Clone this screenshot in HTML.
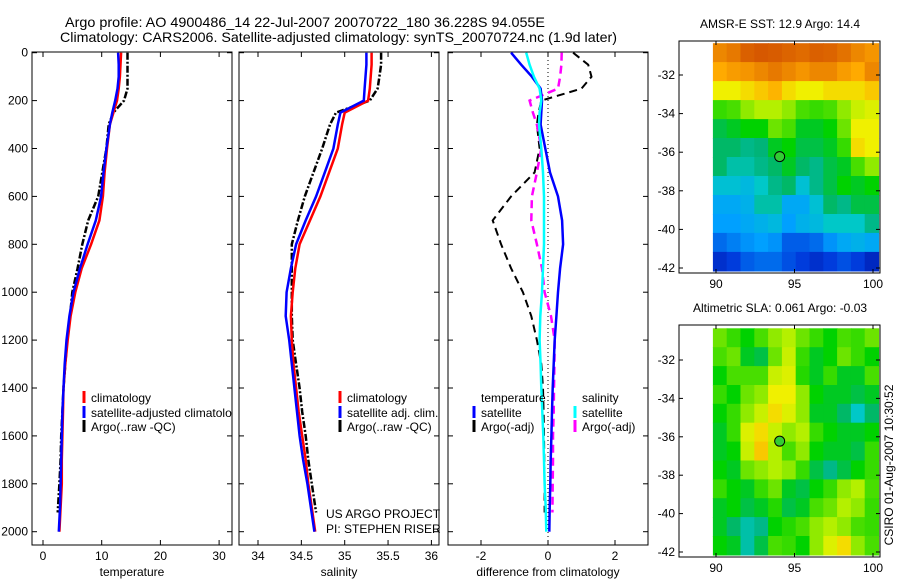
<!DOCTYPE html>
<html><head><meta charset="utf-8"><style>
html,body{margin:0;padding:0;background:#fff;}
svg{display:block;font-family:"Liberation Sans",sans-serif;}
</style></head><body>
<svg id="c" width="900" height="580" viewBox="0 0 900 580">
<defs>
<clipPath id="cp1"><rect x="32" y="52" width="200" height="493"/></clipPath>
<clipPath id="cp2"><rect x="239" y="52" width="200" height="493"/></clipPath>
<clipPath id="cp3"><rect x="448" y="52" width="200" height="493"/></clipPath>
</defs>
<text x="65" y="27" font-size="14" textLength="480" lengthAdjust="spacingAndGlyphs">Argo profile: AO 4900486_14 22-Jul-2007 20070722_180 36.228S 94.055E</text>
<text x="60" y="42" font-size="14" textLength="557" lengthAdjust="spacingAndGlyphs">Climatology: CARS2006. Satellite-adjusted climatology: synTS_20070724.nc (1.9d later)</text>
<g id="g"></g>
</svg>
<script>
// ---- data ----
const depths = [0,50,100,150,200,250,300,400,500,600,700,800,900,1000,1100,1200,1300,1400,1500,1600,1700,1800,1900,2000];
const tempClim = [13.3,13.2,13.1,12.9,12.6,12.0,11.4,10.9,10.5,10.2,9.6,8.2,6.6,5.5,4.7,4.2,3.8,3.5,3.4,3.3,3.2,3.2,3.0,2.8];
const tempSat  = [12.8,12.9,12.9,12.7,12.3,11.8,11.4,10.8,10.3,9.9,9.0,7.6,6.3,5.2,4.5,4.0,3.7,3.5,3.3,3.2,3.1,3.0,2.9,2.7];
const argoDepths = [0,50,100,150,200,250,300,400,500,600,700,800,900,1000,1100,1200,1300,1400,1500,1600,1700,1800,1920];
const tempArgo = [14.4,14.4,14.4,14.4,13.8,12.0,11.2,10.8,10.1,9.4,7.7,6.7,5.9,5.0,4.6,4.1,3.8,3.5,3.3,3.1,3.0,2.8,2.5];
const salClim = [35.31,35.31,35.30,35.29,35.27,35.00,34.97,34.92,34.82,34.72,34.60,34.48,34.43,34.40,34.38,34.39,34.41,34.44,34.47,34.51,34.55,34.58,34.62,34.66];
const salSat  = [35.25,35.25,35.24,35.23,35.22,34.95,34.92,34.87,34.77,34.67,34.55,34.44,34.38,34.33,34.32,34.36,34.39,34.42,34.45,34.48,34.52,34.57,34.61,34.65];
const salArgo = [35.42,35.42,35.40,35.38,35.29,34.90,34.83,34.74,34.64,34.54,34.46,34.39,34.39,34.39,34.39,34.40,34.44,34.48,34.51,34.55,34.58,34.62,34.67];
const diffTempSat = [-1.1,-0.8,-0.48,-0.22,-0.18,-0.2,-0.22,-0.08,0.06,0.3,0.42,0.45,0.36,0.3,0.25,0.2,0.17,0.14,0.12,0.1,0.08,0.07,0.05,0.04];
const diffSalSat  = [-0.65,-0.55,-0.42,-0.25,-0.2,-0.25,-0.27,-0.2,-0.15,-0.12,-0.12,-0.12,-0.15,-0.18,-0.23,-0.25,-0.22,-0.2,-0.17,-0.14,-0.12,-0.1,-0.07,-0.05];
const diffTempArgo = [0.75,1.2,1.3,1.0,-0.2,-0.28,-0.33,-0.25,-0.4,-1.1,-1.65,-1.4,-1.1,-0.75,-0.5,-0.33,-0.2,-0.15,-0.13,-0.12,-0.11,-0.1,-0.1];
const diffSalArgo  = [0.41,0.4,0.36,0.3,-0.55,-0.45,-0.33,-0.2,-0.33,-0.48,-0.5,-0.33,-0.18,-0.1,0.09,0.2,0.19,0.18,0.17,0.15,0.15,0.14,0.13];
const depthTicks = [0,200,400,600,800,1000,1200,1400,1600,1800,2000];
const tempTicks = [0,10,20,30];
const salTicks = [34,34.5,35,35.5,36];
const diffTicks = [-2,0,2];
const latTicks = [-32,-34,-36,-38,-40,-42];
const lonTicks = [90,95,100];
const sstGrid = [
[0.8,0.82,0.86,0.88,0.87,0.85,0.84,0.86,0.85,0.83,0.8,0.78],
[0.75,0.77,0.78,0.8,0.82,0.8,0.78,0.8,0.8,0.77,0.75,0.8],
[0.68,0.68,0.7,0.72,0.74,0.7,0.68,0.68,0.7,0.7,0.7,0.72],
[0.55,0.56,0.6,0.62,0.62,0.6,0.56,0.55,0.56,0.6,0.64,0.66],
[0.48,0.5,0.52,0.52,0.58,0.56,0.5,0.5,0.52,0.58,0.68,0.68],
[0.46,0.46,0.44,0.45,0.5,0.52,0.48,0.48,0.5,0.55,0.7,0.68],
[0.46,0.42,0.42,0.44,0.46,0.5,0.46,0.44,0.48,0.5,0.56,0.6],
[0.38,0.38,0.36,0.4,0.44,0.46,0.38,0.44,0.48,0.52,0.5,0.52],
[0.32,0.32,0.34,0.42,0.42,0.32,0.32,0.38,0.46,0.44,0.48,0.48],
[0.3,0.3,0.32,0.34,0.36,0.3,0.34,0.36,0.4,0.4,0.4,0.44],
[0.22,0.25,0.28,0.3,0.28,0.2,0.2,0.22,0.28,0.32,0.34,0.32],
[0.12,0.15,0.2,0.22,0.22,0.18,0.15,0.12,0.15,0.18,0.15,0.1]];
const slaGrid = [
[0.58,0.55,0.52,0.56,0.6,0.62,0.58,0.55,0.52,0.56,0.55,0.58],
[0.56,0.58,0.5,0.48,0.58,0.64,0.55,0.5,0.52,0.58,0.55,0.52],
[0.52,0.56,0.56,0.56,0.64,0.66,0.54,0.5,0.55,0.5,0.5,0.56],
[0.55,0.52,0.58,0.6,0.68,0.68,0.6,0.52,0.5,0.5,0.48,0.5],
[0.52,0.55,0.6,0.64,0.7,0.66,0.6,0.5,0.5,0.46,0.4,0.46],
[0.5,0.55,0.66,0.7,0.64,0.6,0.62,0.55,0.52,0.5,0.5,0.52],
[0.5,0.52,0.64,0.72,0.62,0.56,0.6,0.52,0.5,0.5,0.48,0.55],
[0.52,0.5,0.58,0.6,0.62,0.6,0.55,0.48,0.44,0.48,0.52,0.55],
[0.55,0.52,0.5,0.55,0.58,0.5,0.48,0.52,0.55,0.6,0.62,0.56],
[0.5,0.52,0.48,0.5,0.54,0.48,0.5,0.56,0.58,0.62,0.6,0.55],
[0.5,0.46,0.42,0.44,0.52,0.54,0.56,0.6,0.62,0.6,0.56,0.55],
[0.52,0.5,0.42,0.48,0.56,0.55,0.52,0.6,0.66,0.7,0.6,0.56]];
const argoLon = 94.055, argoLat = -36.228;
const gridLon0 = 89.8, gridLon1 = 100.35, gridLat0 = -30.35, gridLat1 = -42.15;

// ---- helpers ----
const NS="http://www.w3.org/2000/svg";
const G=document.getElementById('g');
function mk(tag,attrs,parent){const e=document.createElementNS(NS,tag);for(const k in attrs)e.setAttribute(k,attrs[k]);(parent||G).appendChild(e);return e;}
const Y=d=>52.7+d*0.2395;
const xT=v=>43+v*5.87;
const xS=v=>258+(v-34)*86.7;
const xD=v=>548+v*33.5;
const pTop=52, pBot=545;
function line(xs,ds,xf,color,w,dash,clip,name){
  const pts=xs.map((v,i)=>xf(v).toFixed(1)+','+Y(ds[i]).toFixed(1)).join(' ');
  const p=mk('polyline',{points:pts,fill:'none',stroke:color,'stroke-width':w,'stroke-dasharray':dash||'none','clip-path':'url(#'+clip+')'});
  
  
}
function panel(x0,x1,ticks,xf,fmt,title,name){
  const r=mk('rect',{x:x0,y:pTop,width:x1-x0,height:pBot-pTop,fill:'none',stroke:'#000','stroke-width':1});
  
  
  ticks.forEach(t=>{const x=xf(t);
    mk('line',{x1:x,x2:x,y1:pTop,y2:pTop+5,stroke:'#000'});mk('line',{x1:x,x2:x,y1:pBot,y2:pBot-5,stroke:'#000'});
    const tx=mk('text',{x:x,y:560,'font-size':12,'text-anchor':'middle'});tx.textContent=fmt(t);
    
    
  });
  depthTicks.forEach(d=>{const y=Y(d);
    mk('line',{x1:x0,x2:x0+5,y1:y,y2:y,stroke:'#000'});mk('line',{x1:x1,x2:x1-5,y1:y,y2:y,stroke:'#000'});});
  const tt=mk('text',{x:(x0+x1)/2,y:576,'font-size':12,'text-anchor':'middle'});tt.textContent=title;
  
  
}
function legend(x,y,color,label,clip,name){
  const attrs={};
  if(clip)attrs['clip-path']='url(#'+clip+')';
  const g=mk('g',attrs);
  
  
  mk('line',{x1:x,x2:x,y1:y-6,y2:y+6,stroke:color,'stroke-width':3},g);
  const t=mk('text',{x:x+7,y:y+5,'font-size':12},g);t.textContent=label;
}
// panels
panel(32,232,tempTicks,xT,String,'temperature','temperature-panel');
panel(239,439,salTicks,xS,String,'salinity','salinity-panel');
panel(448,648,diffTicks,xD,String,'difference from climatology','difference-panel');
depthTicks.forEach(d=>{const t=mk('text',{x:28,y:Y(d)+4,'font-size':12,'text-anchor':'end'});t.textContent=d;
  
  });
// zero line
const zl=mk('line',{x1:xD(0),x2:xD(0),y1:pTop,y2:pBot,stroke:'#000','stroke-width':1,'stroke-dasharray':'1,3'});


// series
line(tempArgo,argoDepths,xT,'#000',2.5,'7,2,2,2','cp1','temperature-argo-line');
line(tempClim,depths,xT,'#f00',2.5,null,'cp1','temperature-climatology-line');
line(tempSat,depths,xT,'#00f',2.5,null,'cp1','temperature-satellite-line');
line(salArgo,argoDepths,xS,'#000',2.5,'7,2,2,2','cp2','salinity-argo-line');
line(salClim,depths,xS,'#f00',2.5,null,'cp2','salinity-climatology-line');
line(salSat,depths,xS,'#00f',2.5,null,'cp2','salinity-satellite-line');
line(diffTempArgo,argoDepths,xD,'#000',2,'8,5','cp3','diff-temperature-argo-line');
line(diffSalArgo,argoDepths,xD,'#f0f',2.5,'8,5','cp3','diff-salinity-argo-line');
line(diffTempSat,depths,xD,'#00f',2.5,null,'cp3','diff-temperature-satellite-line');
line(diffSalSat,depths,xD,'#0ff',2.5,null,'cp3','diff-salinity-satellite-line');
// legends
legend(84,397,'#f00','climatology','cp1','legend-temp-climatology');
legend(84,412,'#00f','satellite-adjusted climatology','cp1','legend-temp-satellite');
legend(84,426,'#000','Argo(..raw -QC)','cp1','legend-temp-argo');
legend(340,397,'#f00','climatology','cp2','legend-sal-climatology');
legend(340,412,'#00f','satellite adj. clim.','cp2','legend-sal-satellite');
legend(340,426,'#000','Argo(..raw -QC)','cp2','legend-sal-argo');
let t1=mk('text',{x:481,y:402,'font-size':12});t1.textContent='temperature';


let t2=mk('text',{x:582,y:402,'font-size':12});t2.textContent='salinity';


legend(474,412,'#00f','satellite',null,'legend-diff-temp-satellite');
legend(474,426,'#000','Argo(-adj)',null,'legend-diff-temp-argo');
legend(575,412,'#0ff','satellite',null,'legend-diff-sal-satellite');
legend(575,426,'#f0f','Argo(-adj)',null,'legend-diff-sal-argo');
let c1=mk('text',{x:326,y:518,'font-size':12});c1.textContent='US ARGO PROJECT';


let c2=mk('text',{x:326,y:533,'font-size':12});c2.textContent='PI: STEPHEN RISER';



// maps
const cmapStops=[[0,0,0,140],[0.15,0,60,220],[0.3,0,160,255],[0.4,0,200,200],[0.45,0,180,120],[0.52,0,210,0],[0.62,180,240,0],[0.68,240,240,0],[0.75,255,170,0],[0.85,220,100,0],[1,190,40,0]];
function cmap(v){v=Math.max(0,Math.min(1,v));
  for(let i=1;i<cmapStops.length;i++){const a=cmapStops[i-1],b=cmapStops[i];
    if(v<=b[0]){const f=(v-a[0])/(b[0]-a[0]);
      return 'rgb('+[1,2,3].map(k=>Math.round(a[k]+(b[k]-a[k])*f)).join(',')+')';}}
  return 'rgb(190,40,0)';}
function map(by0,by1,grid,title,name,lat32y,lat42y){
  const bx0=679,bx1=880;
  const lonX=l=>716+(l-90)*15.7;
  const latY=a=>lat32y+(-32-a)*(lat42y-lat32y)/10;
  const rows=grid.length,cols=grid[0].length;
  const dLon=(gridLon1-gridLon0)/cols,dLat=(gridLat0-gridLat1)/rows;
  grid.forEach((row,i)=>row.forEach((v,j)=>{
    const x=lonX(gridLon0+j*dLon),y=latY(gridLat0-i*dLat);
    const c=mk('rect',{x:x.toFixed(1),y:y.toFixed(1),width:(lonX(gridLon0+(j+1)*dLon)-x+0.6).toFixed(1),height:(latY(gridLat0-(i+1)*dLat)-y+0.6).toFixed(1),fill:cmap(v)});
    
    
  }));
  const f=mk('rect',{x:bx0,y:by0,width:bx1-bx0,height:by1-by0,fill:'none',stroke:'#000'});
  
  
  latTicks.forEach(a=>{const y=latY(a);
    mk('line',{x1:bx0,x2:bx0+4,y1:y,y2:y,stroke:'#000'});mk('line',{x1:bx1,x2:bx1-4,y1:y,y2:y,stroke:'#000'});
    const t=mk('text',{x:675,y:y+4,'font-size':12,'text-anchor':'end'});t.textContent=a;
    
    });
  lonTicks.forEach(l=>{const x=lonX(l);
    mk('line',{x1:x,x2:x,y1:by1,y2:by1-4,stroke:'#000'});mk('line',{x1:x,x2:x,y1:by0,y2:by0+4,stroke:'#000'});
    const t=mk('text',{x:x,y:by1+15,'font-size':12,'text-anchor':'middle'});t.textContent=l;
    
    });
  const m=mk('circle',{cx:lonX(argoLon),cy:latY(argoLat),r:5,fill:'#3c3',stroke:'#000'});
  
  
  const tt=mk('text',{x:780,y:by0-13,'font-size':12,'text-anchor':'middle'});tt.textContent=title;
  
  
}
map(41,273,sstGrid,'AMSR-E SST: 12.9 Argo: 14.4','sst-map',75,268);
map(325,557,slaGrid,'Altimetric SLA: 0.061 Argo: -0.03','sla-map',360,552);
const v=mk('text',{x:0,y:0,'font-size':12,'text-anchor':'middle',transform:'translate(893,465) rotate(-90)'});
v.textContent='CSIRO 01-Aug-2007 10:30:52';


</script>
</body></html>
